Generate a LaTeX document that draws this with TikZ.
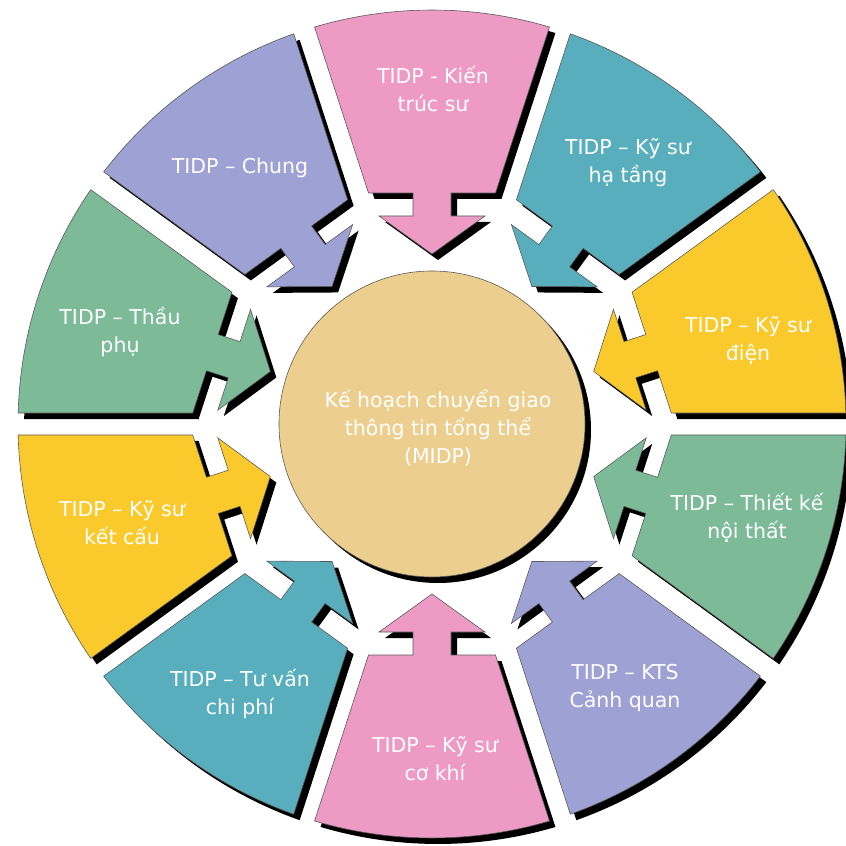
\documentclass[tikz,border=0pt]{standalone}
\usepackage{fontspec}
\setmainfont{DejaVu Sans}
\usepackage{tikz}
\usetikzlibrary{calc}

\definecolor{segpink}{RGB}{237,154,196}
\definecolor{segteal}{RGB}{88,174,188}
\definecolor{segyellow}{RGB}{250,202,44}
\definecolor{seggreen}{RGB}{124,186,152}
\definecolor{seglav}{RGB}{157,161,212}
\definecolor{hubfill}{RGB}{236,206,142}

% one ring piece, pointing along +x
\newcommand{\arrowseg}{(231,-63.5) -- (-16.48:414) arc[start angle=-16.48,end angle=16.48,radius=414]
  -- (231,63.5) -- (231,19) -- (208,19) -- (208,53) -- (170,0) -- (208,-53) -- (208,-19) -- (231,-19) -- cycle}

\begin{document}
\begin{tikzpicture}[x=0.03cm,y=0.03cm,
  shade/.style={fill=black},
  piece/.style={draw=black!65,line width=0.5pt},
  lbl/.style={text=white,align=center,font={\fontsize{17.5}{24}\selectfont}}]
\useasboundingbox (-432,-421) rectangle (414,424);

% shadows first
\foreach \a in {90,54,18,-18,-54,-90,-126,-162,162,126}
  \fill[shade,shift={(6,-6)},rotate=\a] \arrowseg;
\fill[shade] (6,-6) circle[radius=153];

% coloured pieces
\foreach \a/\c in {90/segpink,54/segteal,18/segyellow,-18/seggreen,-54/seglav,
                   -90/segpink,-126/segteal,-162/segyellow,162/seggreen,126/seglav}
  \filldraw[piece,fill=\c,rotate=\a] \arrowseg;

\filldraw[piece,fill=hubfill] (0,0) circle[radius=153];

\node[lbl] (midp) at (6,-4) {Kế hoạch chuyển giao\\thông tin tổng thể\\(MIDP)};
\node[lbl] (t1) at (1,335) {TIDP - Kiến\\trúc sư};
\node[lbl] (t2) at (196,261) {TIDP – Kỹ sư\\hạ tầng};
\node[lbl] (t3) at (316,84) {TIDP – Kỹ sư\\điện};
\node[lbl] (t4) at (315,-94) {TIDP – Thiết kế\\nội thất};
\node[lbl] (t5) at (193,-264) {TIDP – KTS\\Cảnh quan};
\node[lbl] (t6) at (3,-335) {TIDP – Kỹ sư\\cơ khí};
\node[lbl] (t7) at (-192,-270) {TIDP – Tư vấn\\chi phí};
\node[lbl] (t8) at (-310,-99) {TIDP – Kỹ sư\\kết cấu};
\node[lbl] (t9) at (-312,92) {TIDP – Thầu\\phụ};
\node[lbl] (t10) at (-192,256) {TIDP – Chung};
\end{tikzpicture}
\end{document}
